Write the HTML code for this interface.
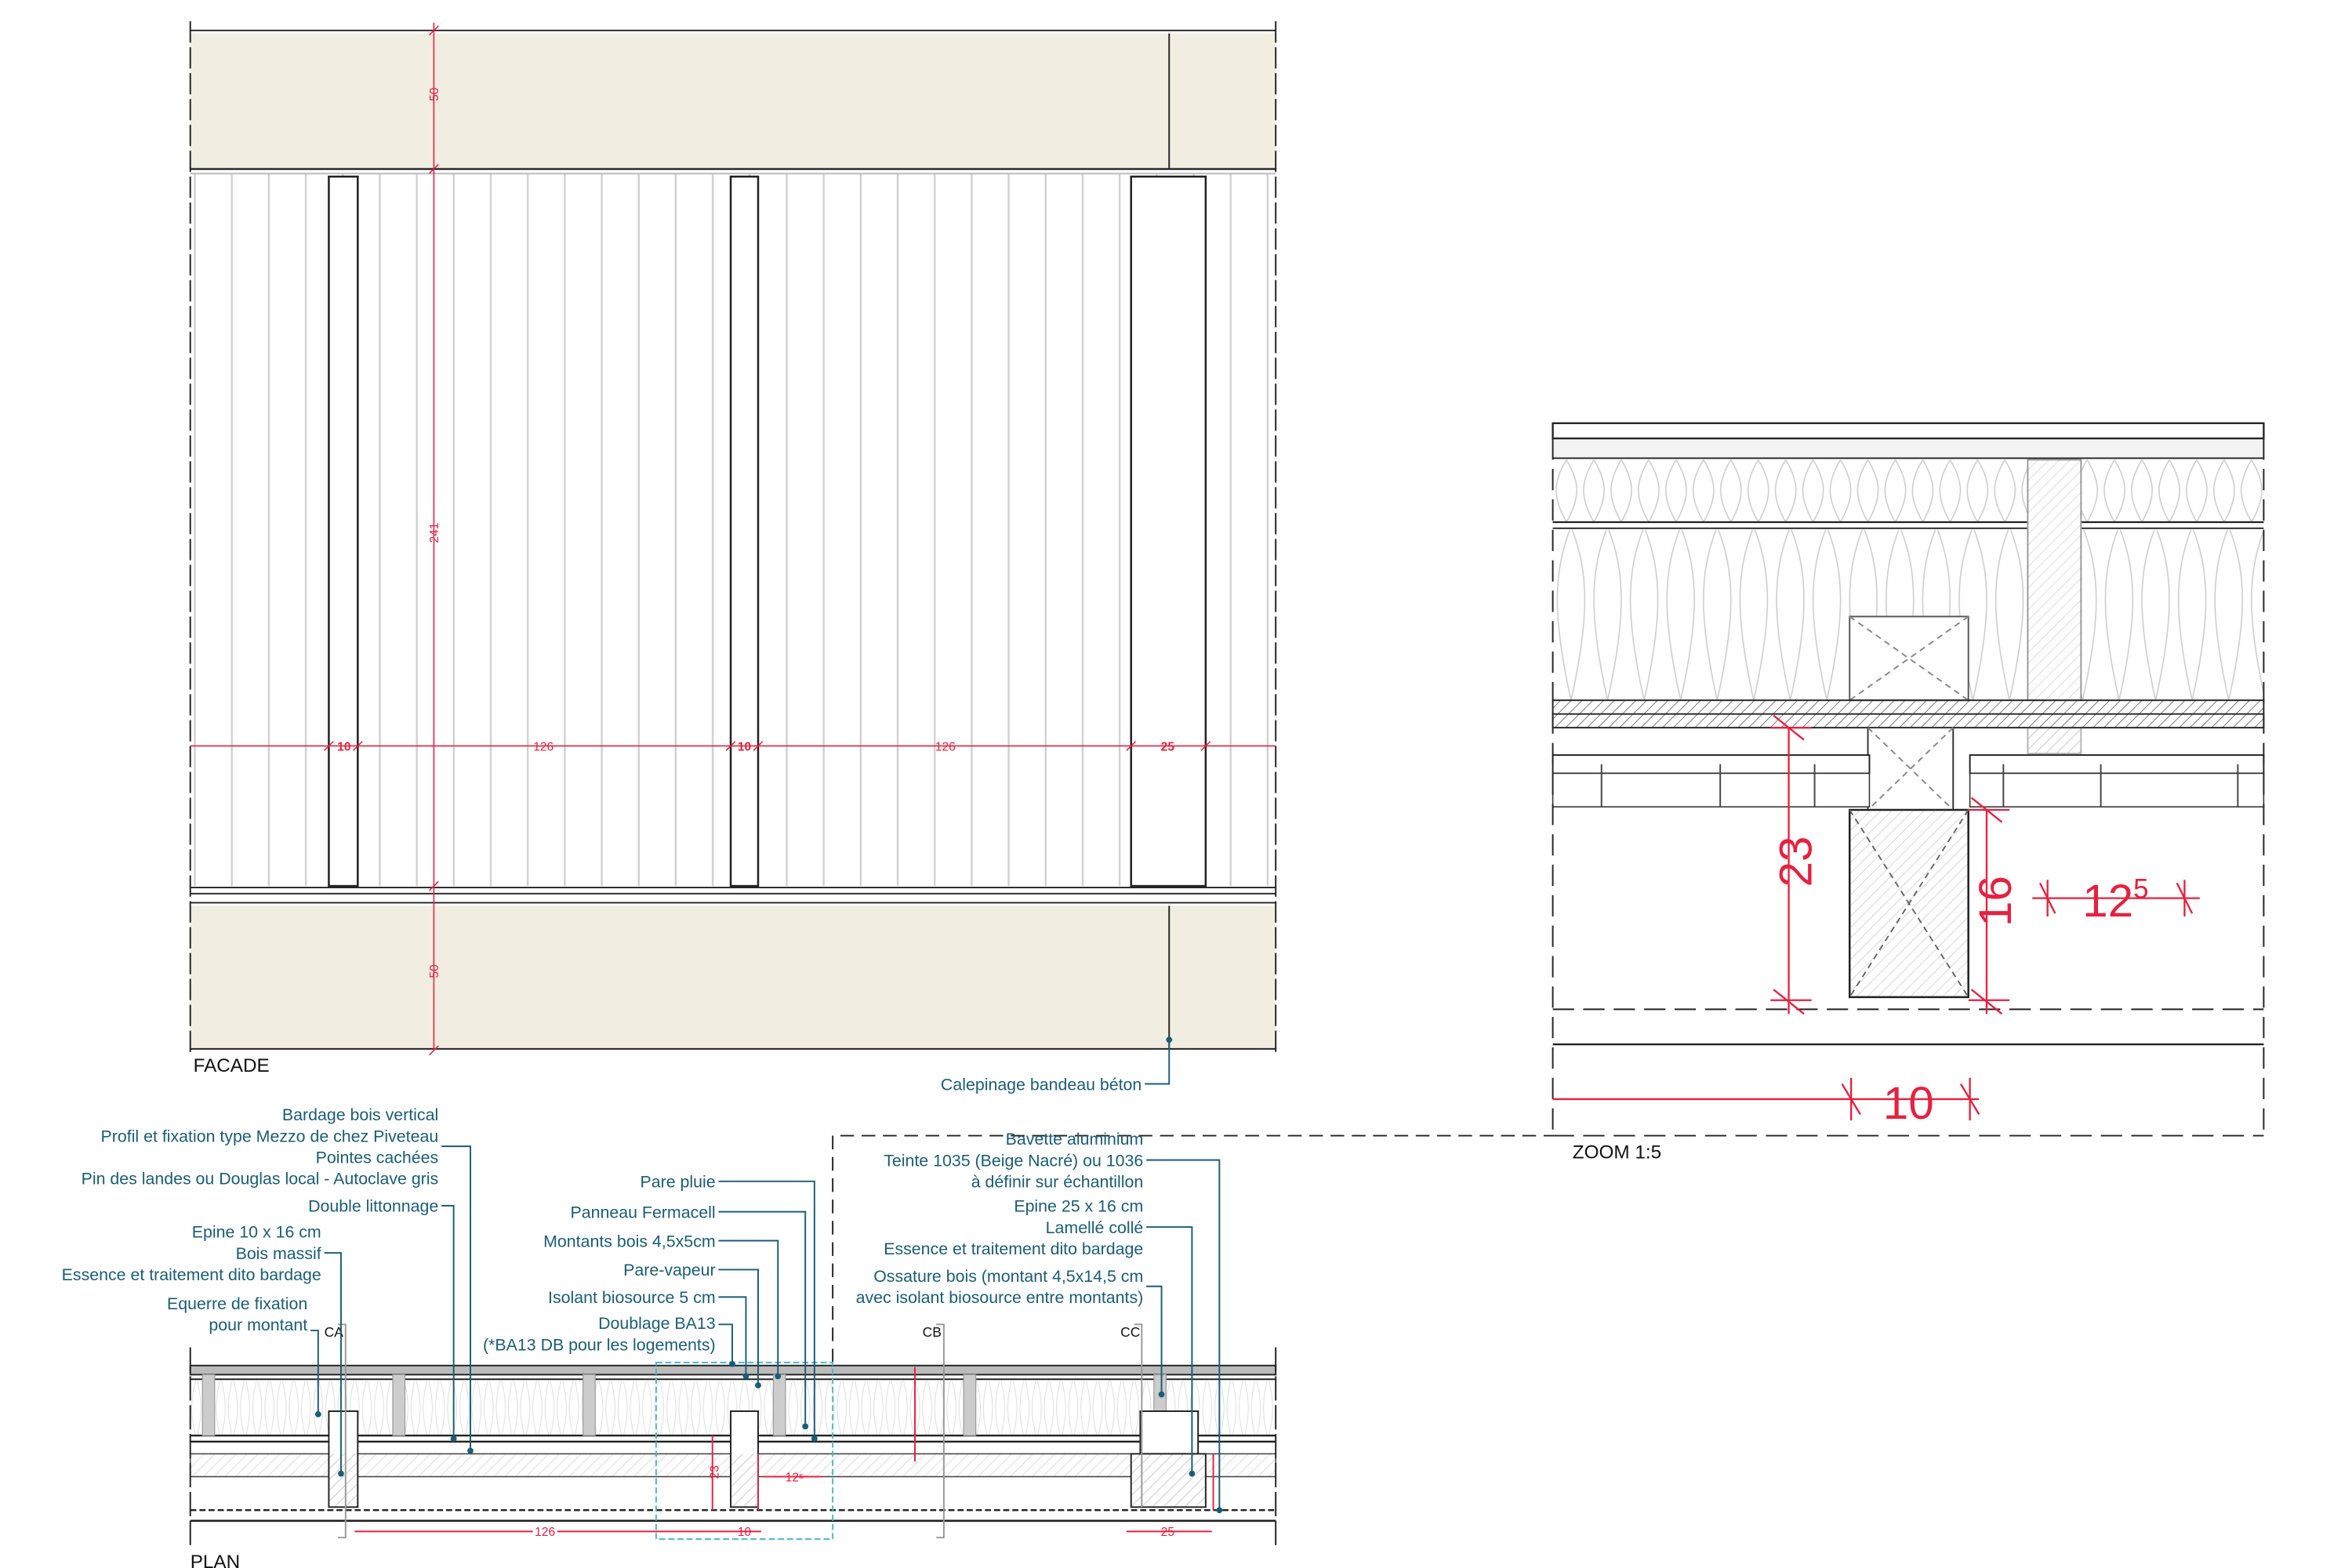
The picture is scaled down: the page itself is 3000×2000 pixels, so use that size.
<!DOCTYPE html>
<html><head><meta charset="utf-8"><style>html,body{margin:0;padding:0;background:#fff}svg{display:block}</style></head>
<body>
<svg xmlns="http://www.w3.org/2000/svg" width="3000" height="2000" viewBox="0 0 1545 1030" preserveAspectRatio="none" font-family="'Liberation Sans', sans-serif">
<defs>
<pattern id="boards" x="125" y="0" width="24.3" height="10" patternUnits="userSpaceOnUse"><line x1="3" y1="0" x2="3" y2="10" stroke="#cfcfcf" stroke-width="1.2"/></pattern>
<pattern id="hatch" width="5" height="5" patternUnits="userSpaceOnUse" patternTransform="rotate(45)"><line x1="0" y1="0" x2="0" y2="5" stroke="#555" stroke-width="0.8"/></pattern>
<pattern id="wave" width="24" height="114" patternUnits="userSpaceOnUse" x="1020" y="346"><path d="M12 0 C0 30 0 60 12 114 M12 0 C24 30 24 60 12 114" fill="none" stroke="#ccc" stroke-width="0.8"/></pattern>
<pattern id="wave2" width="18" height="41" patternUnits="userSpaceOnUse" x="1020" y="302"><path d="M9 0 C0 15 0 25 9 41 M9 0 C18 15 18 25 9 41" fill="none" stroke="#ccc" stroke-width="0.8"/></pattern>
<pattern id="wave3" width="8" height="40" patternUnits="userSpaceOnUse" x="125" y="905"><path d="M4 0 C0 15 0 25 4 40 M4 0 C8 15 8 25 4 40" fill="none" stroke="#ddd" stroke-width="0.5"/></pattern>
</defs>

<!-- FACADE -->
<g>
<line x1="125" y1="20" x2="838" y2="20" stroke="#222"/>
<rect x="125" y="22" width="713" height="89" fill="#f1ede0"/>
<line x1="125" y1="111" x2="838" y2="111" stroke="#222" stroke-width="1.2"/>
<line x1="768" y1="22" x2="768" y2="111" stroke="#222"/>
<rect x="125" y="114" width="713" height="468" fill="url(#boards)"/>
<line x1="125" y1="114" x2="838" y2="114" stroke="#bbb"/>
<rect x="216" y="116" width="19" height="466" fill="#fff" stroke="#222" stroke-width="1.3"/>
<rect x="480" y="116" width="18" height="466" fill="#fff" stroke="#222" stroke-width="1.3"/>
<rect x="743" y="116" width="49" height="466" fill="#fff" stroke="#222" stroke-width="1.3"/>
<line x1="125" y1="583" x2="838" y2="583" stroke="#222"/>
<line x1="125" y1="587" x2="838" y2="587" stroke="#222"/>
<line x1="125" y1="593" x2="838" y2="593" stroke="#222"/>
<rect x="125" y="595" width="713" height="94" fill="#f1ede0"/>
<line x1="125" y1="689" x2="838" y2="689" stroke="#222"/>
<line x1="768" y1="595" x2="768" y2="689" stroke="#222"/>
<line x1="125" y1="14" x2="125" y2="692" stroke="#222" stroke-dasharray="14,3"/>
<line x1="838" y1="14" x2="838" y2="692" stroke="#222" stroke-dasharray="14,3"/>
<g stroke="#e8203f" stroke-width="0.8" fill="none">
<line x1="285" y1="15" x2="285" y2="690"/>
<line x1="125" y1="490" x2="838" y2="490"/>
<path d="M282 23 L288 17 M282 114 L288 108 M282 585 L288 579 M282 693 L288 687 M213 493 L219 487 M232 493 L238 487 M477 493 L483 487 M495 493 L501 487 M740 493 L746 487 M789 493 L795 487"/>
</g>
<g fill="#e8203f" font-size="8" text-anchor="middle">
<text x="288" y="62" transform="rotate(-90 288 62)">50</text>
<text x="288" y="350" transform="rotate(-90 288 350)">241</text>
<text x="288" y="638" transform="rotate(-90 288 638)">50</text>
<text x="226" y="493" font-weight="bold">10</text>
<text x="357" y="493">126</text>
<text x="489" y="493" font-weight="bold">10</text>
<text x="621" y="493">126</text>
<text x="767" y="493" font-weight="bold">25</text>
</g>
<text x="127" y="704" font-size="12.5" fill="#111">FACADE</text>
<text x="750" y="716" font-size="11" fill="#1a5d78" text-anchor="end">Calepinage bandeau béton</text>
<polyline points="752,712 768,712 768,683" fill="none" stroke="#1a5d78"/>
<circle cx="768" cy="683" r="2" fill="#1a5d78"/>
</g>

<!-- ZOOM -->
<g>
<rect x="1020" y="278" width="467" height="10" fill="#fff" stroke="#222" stroke-width="1.2"/>
<rect x="1020" y="289" width="467" height="12" fill="#f3f3f3"/>
<line x1="1020" y1="301" x2="1487" y2="301" stroke="#222"/>
<rect x="1020" y="302" width="467" height="41" fill="url(#wave2)"/>
<line x1="1020" y1="343" x2="1487" y2="343" stroke="#222" stroke-width="1.2"/>
<line x1="1020" y1="347" x2="1487" y2="347" stroke="#222"/>
<rect x="1020" y="348" width="467" height="112" fill="url(#wave)"/>
<rect x="1332" y="302" width="35" height="158" fill="#fff" stroke="#999"/>
<rect x="1332" y="302" width="35" height="158" fill="url(#hatch)" opacity="0.25"/>
<rect x="1215" y="405" width="78" height="55" fill="#fff" stroke="#555"/>
<path d="M1215 405 L1293 460 M1293 405 L1215 460" stroke="#888" stroke-dasharray="4,3"/>
<rect x="1020" y="460" width="467" height="18" fill="url(#hatch)" stroke="#222"/>
<line x1="1020" y1="469" x2="1487" y2="469" stroke="#222"/>
<rect x="1332" y="478" width="35" height="17" fill="url(#hatch)" opacity="0.4" stroke="#444"/>
<rect x="1227" y="478" width="56" height="54" fill="#fff" stroke="#333"/>
<path d="M1227 478 L1283 532 M1283 478 L1227 532" stroke="#888" stroke-dasharray="4,3"/>
<rect x="1020" y="496" width="208" height="12" fill="#fff" stroke="#222"/>
<rect x="1020" y="508" width="208" height="22" fill="#fff" stroke="#333" stroke-width="0.8"/>
<rect x="1294" y="496" width="193" height="12" fill="#fff" stroke="#222"/>
<rect x="1294" y="508" width="193" height="22" fill="#fff" stroke="#333" stroke-width="0.8"/>
<g stroke="#444" stroke-width="1"><line x1="1052" y1="502" x2="1052" y2="530"/><line x1="1130" y1="502" x2="1130" y2="530"/><line x1="1192" y1="502" x2="1192" y2="530"/><line x1="1316" y1="502" x2="1316" y2="530"/><line x1="1380" y1="502" x2="1380" y2="530"/><line x1="1470" y1="502" x2="1470" y2="530"/></g>
<rect x="1215" y="532" width="78" height="123" fill="#fff" stroke="#222" stroke-width="1.3"/>
<rect x="1215" y="532" width="78" height="123" fill="url(#hatch)" opacity="0.3"/>
<path d="M1215 532 L1293 655 M1293 532 L1215 655" stroke="#666" stroke-dasharray="4,3"/>
<line x1="1020" y1="663" x2="1487" y2="663" stroke="#222" stroke-dasharray="14,6"/>
<line x1="1020" y1="686" x2="1487" y2="686" stroke="#222" stroke-width="1.2"/>
<line x1="1020" y1="746" x2="1487" y2="746" stroke="#222" stroke-dasharray="14,6"/>
<line x1="1020" y1="288" x2="1020" y2="746" stroke="#222" stroke-dasharray="14,6"/>
<line x1="1487" y1="288" x2="1487" y2="746" stroke="#222" stroke-dasharray="14,6"/>
<g stroke="#e8203f" stroke-width="1.2" fill="none">
<line x1="1175" y1="478" x2="1175" y2="666"/><line x1="1165" y1="470" x2="1185" y2="486"/><line x1="1165" y1="650" x2="1185" y2="666"/><line x1="1163" y1="478" x2="1190" y2="478"/><line x1="1163" y1="657" x2="1190" y2="657"/>
<line x1="1305" y1="532" x2="1305" y2="666"/><line x1="1295" y1="524" x2="1315" y2="540"/><line x1="1295" y1="650" x2="1315" y2="666"/><line x1="1293" y1="532" x2="1320" y2="532"/><line x1="1293" y1="657" x2="1320" y2="657"/>
<line x1="1335" y1="590" x2="1445" y2="590"/><line x1="1340" y1="580" x2="1350" y2="600"/><line x1="1430" y1="580" x2="1440" y2="600"/><line x1="1345" y1="578" x2="1345" y2="602"/><line x1="1435" y1="578" x2="1435" y2="602"/>
<line x1="1020" y1="722" x2="1300" y2="722"/><line x1="1210" y1="712" x2="1222" y2="732"/><line x1="1288" y1="712" x2="1300" y2="732"/><line x1="1216" y1="708" x2="1216" y2="736"/><line x1="1294" y1="708" x2="1294" y2="736"/>
</g>
<g fill="#e8203f" font-size="30">
<text x="1190" y="566" transform="rotate(-90 1190 566)" text-anchor="middle">23</text>
<text x="1321" y="592" transform="rotate(-90 1321 592)" text-anchor="middle">16</text>
<text x="1368" y="602">12<tspan font-size="18" dy="-12">5</tspan></text>
<text x="1237" y="735">10</text>
</g>
<text x="1033" y="761" font-size="12.5" fill="#111">ZOOM 1:5</text>
</g>

<!-- connector dashed -->
<polyline points="547,895 547,746 1020,746" fill="none" stroke="#222" stroke-dasharray="9,5"/>

<!-- PLAN -->
<g>
<rect x="125" y="897" width="713" height="6" fill="#bbb" stroke="#222"/>
<line x1="125" y1="906" x2="838" y2="906" stroke="#222"/>
<rect x="125" y="907" width="713" height="36" fill="url(#wave3)"/>
<line x1="125" y1="943" x2="838" y2="943" stroke="#222" stroke-width="1.2"/>
<line x1="125" y1="947" x2="838" y2="947" stroke="#222" stroke-width="1.2"/>
<g fill="#ccc" stroke="#999" stroke-width="0.6">
<rect x="133" y="903" width="8" height="40"/><rect x="258" y="903" width="8" height="40"/><rect x="383" y="903" width="8" height="40"/><rect x="508" y="903" width="8" height="40"/><rect x="633" y="903" width="8" height="40"/><rect x="758" y="903" width="8" height="40"/>
</g>
<rect x="125" y="955" width="713" height="15" fill="#fff" stroke="#444" stroke-width="0.8"/>
<rect x="125" y="955" width="713" height="15" fill="url(#hatch)" opacity="0.25"/>
<rect x="216" y="927" width="19" height="63" fill="#fff" stroke="#222"/>
<rect x="216" y="955" width="19" height="35" fill="url(#hatch)" opacity="0.4"/>
<rect x="480" y="927" width="18" height="63" fill="#fff" stroke="#222"/>
<rect x="480" y="955" width="18" height="35" fill="url(#hatch)" opacity="0.4"/>
<rect x="749" y="927" width="38" height="28" fill="#fff" stroke="#222"/>
<rect x="743" y="955" width="49" height="35" fill="#fff" stroke="#222"/>
<rect x="743" y="955" width="49" height="35" fill="url(#hatch)" opacity="0.4"/>
<line x1="125" y1="992" x2="838" y2="992" stroke="#222" stroke-dasharray="4,2" stroke-width="1.2"/>
<line x1="125" y1="999" x2="838" y2="999" stroke="#222" stroke-width="1.3"/>
<line x1="125" y1="885" x2="125" y2="1015" stroke="#222" stroke-dasharray="16,3"/>
<line x1="838" y1="885" x2="838" y2="1015" stroke="#222" stroke-dasharray="16,3"/>
<rect x="431" y="895" width="116" height="116" fill="none" stroke="#4ab8d0" stroke-dasharray="4,2"/>
<g stroke="#999" fill="none"><polyline points="222,870 227,870 227,1010 222,1010"/><polyline points="615,870 620,870 620,1010 615,1010"/><polyline points="745,870 750,870 750,990"/></g>
<g font-size="9" fill="#111"><text x="213" y="878">CA</text><text x="606" y="878">CB</text><text x="736" y="878">CC</text></g>
<g stroke="#e8203f" stroke-width="1" fill="none">
<line x1="233" y1="1006" x2="500" y2="1006"/><line x1="740" y1="1006" x2="796" y2="1006"/>
<line x1="468" y1="943" x2="468" y2="992"/><line x1="498" y1="955" x2="498" y2="992"/><line x1="601" y1="898" x2="601" y2="960"/>
<line x1="502" y1="970" x2="540" y2="970"/><line x1="797" y1="955" x2="797" y2="992"/>
</g>
<g fill="#e8203f" font-size="8" text-anchor="middle">
<rect x="350" y="1001" width="16" height="10" fill="#fff"/><text x="358" y="1009">126</text>
<text x="489" y="1009">10</text><text x="767" y="1009">25</text>
<text x="472" y="967" transform="rotate(-90 472 967)">23</text>
<text x="522" y="973">12⁵</text>
</g>
<text x="125" y="1030" font-size="12.5" fill="#111">PLAN</text>
</g>

<!-- labels -->
<g font-size="11" fill="#1a5d78" text-anchor="end">
<text x="288" y="736">Bardage bois vertical</text>
<text x="288" y="750">Profil et fixation type Mezzo de chez Piveteau</text>
<text x="288" y="764">Pointes cachées</text>
<text x="288" y="778">Pin des landes ou Douglas local - Autoclave gris</text>
<text x="288" y="796">Double littonnage</text>
<text x="211" y="813">Epine 10 x 16 cm</text>
<text x="211" y="827">Bois massif</text>
<text x="211" y="841">Essence et traitement dito bardage</text>
<text x="202" y="860">Equerre de fixation</text>
<text x="202" y="874">pour montant</text>
<text x="470" y="780">Pare pluie</text>
<text x="470" y="800">Panneau Fermacell</text>
<text x="470" y="819">Montants bois 4,5x5cm</text>
<text x="470" y="838">Pare-vapeur</text>
<text x="470" y="856">Isolant biosource 5 cm</text>
<text x="470" y="873">Doublage BA13</text>
<text x="470" y="887">(*BA13 DB pour les logements)</text>
<text x="751" y="752">Bavette aluminium</text>
<text x="751" y="766">Teinte 1035 (Beige Nacré) ou 1036</text>
<text x="751" y="780">à définir sur échantillon</text>
<text x="751" y="796">Epine 25 x 16 cm</text>
<text x="751" y="810">Lamellé collé</text>
<text x="751" y="824">Essence et traitement dito bardage</text>
<text x="751" y="842">Ossature bois (montant 4,5x14,5 cm</text>
<text x="751" y="856">avec isolant biosource entre montants)</text>
</g>
<g fill="none" stroke="#1a5d78" stroke-width="1">
<polyline points="290,753 309,753 309,953"/>
<polyline points="290,792 298,792 298,945"/>
<polyline points="213,823 224,823 224,968"/>
<polyline points="204,874 209,874 209,929"/>
<polyline points="472,776 535,776 535,945"/>
<polyline points="472,796 529,796 529,937"/>
<polyline points="472,815 511,815 511,904"/>
<polyline points="472,834 498,834 498,910"/>
<polyline points="472,852 490,852 490,904"/>
<polyline points="472,870 481,870 481,896"/>
<polyline points="753,762 801,762 801,992"/>
<polyline points="753,806 783,806 783,968"/>
<polyline points="753,845 763,845 763,916"/>
</g>
<g fill="#1a5d78">
<circle cx="309" cy="953" r="2"/><circle cx="298" cy="945" r="2"/><circle cx="224" cy="968" r="2"/><circle cx="209" cy="929" r="2"/>
<circle cx="535" cy="945" r="2"/><circle cx="529" cy="937" r="2"/><circle cx="511" cy="904" r="2"/><circle cx="498" cy="910" r="2"/><circle cx="490" cy="904" r="2"/><circle cx="481" cy="896" r="2"/>
<circle cx="801" cy="992" r="2"/><circle cx="783" cy="968" r="2"/><circle cx="763" cy="916" r="2"/>
</g>
</svg>
</body></html>
